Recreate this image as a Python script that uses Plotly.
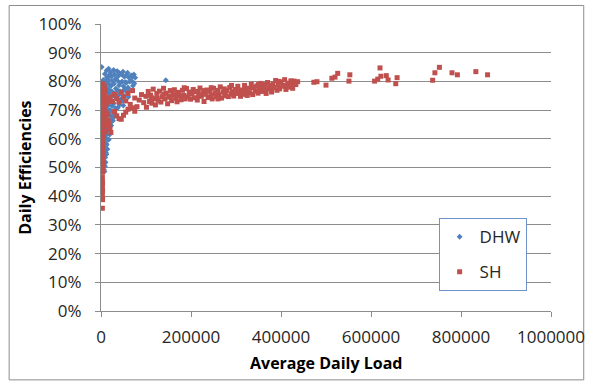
import plotly.graph_objects as go

# ---------------- data ----------------
# DHW: average daily load (Btu/day) and daily efficiency (%)
dhw_load = [
    1500, 2000, 2500, 3000, 5000, 6000, 7000, 5500, 6500, 7500, 5000, 6000, 7000, 5500, 6500, 7200,
    5800, 6800, 6000, 7000, 6200, 7300, 6500, 7800,
    8500, 9000, 10000, 8800, 9500, 10500, 9200, 10800, 9600, 11000, 10000, 11500, 10300, 11200,
    9800, 10900, 9400, 10200, 8600,
    12500, 13000, 14000, 12800, 15000, 13500, 14600, 12900, 15400, 13800, 15800, 14200, 13100,
    15100, 12700, 14300, 12200,
    17000, 18000, 16500, 19000, 17500, 20000, 18500, 16800, 19600, 17900, 20300, 18200, 16400,
    19200, 17300,
    21500, 23000, 25000, 22000, 24000, 26000, 22500, 24800, 21800, 23800, 26200, 22800, 25500,
    28000, 30000, 32000, 29000, 33000, 31000, 34000, 28500, 32500, 30500, 27500,
    36000, 38000, 41000, 37000, 40000, 43000, 36500, 39000, 42000, 44000, 38500, 41500, 37500,
    46000, 49000, 52000, 47000, 50000, 54000, 48000, 51000, 53000, 46500, 49500,
    56000, 59000, 62000, 57000, 60000, 64000, 58000, 61000, 63000,
    67000, 70000, 73000, 68000, 71000, 76000, 69000, 74000,
    144000,
]
dhw_eff = [
    85.0, 78.0, 76.5, 74.0, 80.5, 79.0, 77.5, 75.8, 73.5, 71.2, 69.5, 67.8, 66.0, 64.2, 62.5, 60.8,
    59.0, 57.4, 55.6, 54.0, 52.3, 50.8, 49.2, 48.6,
    82.6, 80.1, 78.3, 76.4, 74.6, 72.7, 70.9, 69.1, 67.3, 65.5, 63.6, 61.8, 60.1, 58.4,
    56.7, 55.1, 53.5, 51.8, 50.4,
    83.8, 81.4, 79.6, 77.7, 75.9, 74.1, 72.2, 70.5, 68.7, 66.9, 65.2, 63.4, 61.6,
    59.8, 57.9, 56.4, 54.6,
    84.4, 82.2, 80.6, 78.9, 77.1, 75.4, 73.6, 71.8, 70.1, 68.3, 66.6, 64.8, 63.2,
    61.5, 59.7,
    83.2, 81.7, 80.1, 78.4, 76.6, 74.9, 73.1, 71.4, 69.7, 68.0, 66.4, 64.6, 66.2,
    84.0, 82.5, 80.9, 79.2, 77.5, 75.8, 74.1, 72.4, 70.7, 68.9, 67.4,
    83.6, 81.8, 82.9, 80.2, 78.6, 79.4, 76.9, 75.2, 76.6, 73.8, 73.5, 71.9, 70.8,
    82.4, 83.4, 81.6, 80.0, 78.3, 79.7, 76.6, 74.9, 77.3, 73.2, 71.6,
    82.2, 83.0, 81.3, 79.6, 77.9, 79.9, 76.2, 74.6, 76.8,
    82.1, 81.6, 82.4, 80.2, 78.5, 81.3, 76.8, 79.3,
    80.4,
]

# SH: average daily load (Btu/day) and daily efficiency (%)
sh_load = [
    # low-load column
    3000, 2500, 4000, 3000, 2000, 4500, 3000, 2500, 4000, 3000, 2000, 4500, 3000, 2500, 4000, 3000,
    2000, 5000, 3000, 2500, 4000, 3000, 2000, 4500, 3000, 2500, 4000, 3000, 2000, 4500, 3000, 2500,
    4000, 3000, 2000, 4500, 3000, 2500, 3500, 3000,
    3000, 2500, 3500, 3000, 2500, 3500, 3000, 2500, 3000, 3500, 3000,
    # spread next to the column
    7000, 9000, 6500, 11000, 8000, 14000, 10000, 7000, 12000, 9000, 16000, 7500, 13000, 20000,
    10000, 6000, 18000, 22000, 15000, 8500, 12500,
    # upper branch
    20000, 25000, 30000, 35000, 40000, 45000, 50000, 55000, 60000, 65000, 70000, 75000, 80000,
    85000, 90000, 95000, 100000,
    # lower hook
    30000, 35000, 40000, 45000, 50000, 55000, 60000, 70000, 75000, 101000,
    # main band
    105000, 108000, 110000, 113000, 116000, 118000, 121000, 124000, 127000, 130000, 133000,
    136000, 139000, 142000, 145000, 148000, 151000, 154000, 157000, 160000, 163000, 166000,
    169000, 172000, 175000, 178000, 181000, 184000, 187000, 190000, 193000, 196000, 199000,
    202000, 205000, 208000, 211000, 214000, 217000, 220000, 223000, 226000, 229000, 232000,
    235000, 238000, 241000, 244000, 247000, 250000, 253000, 256000, 259000, 262000, 265000,
    268000, 271000, 274000, 277000, 280000, 283000, 286000, 289000, 292000, 295000, 298000,
    301000, 304000, 307000, 310000, 313000, 316000, 319000, 322000, 325000, 328000, 331000,
    334000, 337000, 340000, 343000, 346000, 349000, 352000, 355000, 358000, 361000, 364000,
    367000, 370000, 373000, 376000, 379000, 382000, 385000, 388000, 391000, 394000, 397000,
    400000, 404000, 408000, 411000, 415000, 419000, 422000, 426000, 429000, 433000, 437000,
    112000, 125000, 140000, 155000, 170000, 185000, 200000, 215000, 230000, 245000, 260000,
    275000, 290000, 305000, 320000, 335000, 350000, 365000, 380000, 395000, 410000, 425000,
    # high-load tail
    473000, 480000, 500000, 513000, 520000, 526000, 551000, 553000, 608000, 615000, 620000,
    622000, 634000, 638000, 655000, 658000, 737000, 742000, 752000, 780000, 792000, 833000,
    859000,
]
sh_eff = [
    79.2, 78.4, 77.6, 76.8, 76.0, 75.3, 74.5, 73.7, 72.9, 72.1, 71.3, 70.5, 69.7, 68.9, 68.1, 67.3,
    66.5, 65.7, 64.9, 64.1, 63.3, 62.5, 61.7, 60.9, 60.1, 59.3, 58.5, 57.7, 56.9, 56.1, 55.3, 54.5,
    53.7, 52.9, 52.1, 51.3, 50.5, 49.7, 48.9, 48.3,
    46.5, 45.6, 44.7, 43.8, 42.9, 42.0, 41.1, 40.2, 39.3, 38.8, 35.8,
    78.5, 77.0, 75.5, 74.2, 73.2, 72.5, 71.5, 70.2, 69.0, 67.8, 66.5, 65.5, 64.5, 63.5,
    62.6, 61.5, 65.2, 62.2, 68.5, 76.0, 73.8,
    74.5, 73.0, 75.5, 74.0, 72.8, 76.2, 74.6, 73.2, 75.8, 72.0, 76.8, 74.2, 71.2,
    73.5, 75.4, 72.6, 74.8,
    69.5, 68.0, 67.0, 66.8, 68.2, 69.3, 70.3, 70.8, 69.6, 71.0,
    76.5, 73.0, 75.2, 72.4, 77.3, 74.0, 71.8, 75.8, 73.4, 76.6, 72.8,
    74.7, 77.6, 73.9, 75.9, 72.2, 74.5, 76.8, 73.3, 75.4, 77.1, 74.2,
    72.9, 76.2, 74.9, 73.6, 76.9, 75.1, 73.9, 77.5, 74.6, 76.1, 73.8,
    75.6, 77.2, 74.3, 76.4, 73.5, 75.1, 77.7, 74.8, 76.0, 73.0, 75.5,
    77.0, 74.4, 76.6, 75.2, 73.9, 77.6, 75.8, 74.6, 76.9, 75.4, 78.1,
    74.2, 76.3, 77.4, 75.0, 76.8, 74.7, 77.9, 75.6, 76.4, 74.9, 77.2,
    75.8, 78.3, 76.1, 74.8, 77.0, 75.5, 78.6, 76.4, 75.1, 77.6, 76.0,
    79.0, 75.4, 77.9, 76.6, 78.4, 75.9, 77.3, 79.3, 76.5, 78.0, 77.1,
    75.8, 79.6, 77.5, 78.5, 76.3, 79.1, 77.9, 80.3, 76.9, 78.8, 77.4,
    79.8, 78.3, 80.6, 77.2, 79.4, 78.0, 80.2, 77.6, 80.1, 78.9, 79.9,
    74.3, 74.1, 75.6, 74.9, 75.4, 77.8, 76.3, 76.5, 76.8, 77.8, 73.9,
    75.8, 78.6, 76.9, 77.3, 77.8, 78.9, 78.9, 77.7, 80.0, 78.6, 79.0,
    79.7, 79.9, 78.7, 81.1, 81.5, 82.8, 80.1, 82.3, 80.1, 80.8, 84.7,
    81.8, 82.0, 80.5, 79.2, 81.3, 80.4, 83.0, 84.9, 83.0, 82.3, 83.4,
    82.3,
]

x_ticks = [0, 200000, 400000, 600000, 800000, 1000000]
x_tick_labels = ["0", "200000", "400000", "600000", "800000", "1000000"]
y_ticks = [0, 10, 20, 30, 40, 50, 60, 70, 80, 90, 100]
y_tick_labels = ["0%", "10%", "20%", "30%", "40%", "50%", "60%", "70%", "80%", "90%", "100%"]

# ---------------- figure ----------------
FONT = "Open Sans"
TXT = "#262626"
GRID = "#8c8c8c"

fig = go.Figure()
fig.add_trace(go.Scatter(
    x=dhw_load, y=dhw_eff, mode="markers", name="DHW", legendgroup="a",
    marker=dict(symbol="diamond", size=4.5, color="#4F81BD", line=dict(width=0)),
))
fig.add_trace(go.Scatter(
    x=sh_load, y=sh_eff, mode="markers", name="SH", legendgroup="b",
    marker=dict(symbol="square", size=5, color="#C0504D", line=dict(width=0)),
))

# plot area: x 100.5..561 px, y 24..310.7 px
L, R, T, B = 100.5, 561.0, 24.0, 310.7
W, H = R - L, B - T


def px_x(p):
    return (p - L) / W


def px_y(p):
    return (B - p) / H


fig.update_layout(
    width=597, height=381,
    margin=dict(l=L, r=597 - R, t=T, b=381 - B, pad=0),
    paper_bgcolor="white", plot_bgcolor="white",
    font=dict(family=FONT, size=17, color=TXT),
    showlegend=True,
    legend=dict(
        x=px_x(446), y=px_y(218), xanchor="left", yanchor="top",
        xref="paper", yref="paper",
        bgcolor="white", bordercolor="#6F93C8", borderwidth=1,
        font=dict(family=FONT, size=17, color=TXT),
        tracegroupgap=10, itemwidth=30,
    ),
    xaxis=dict(
        range=[0, 1000000], tickvals=x_ticks, ticktext=x_tick_labels,
        showgrid=False, zeroline=False,
        showline=True, linecolor=GRID, linewidth=1,
        ticks="outside", ticklen=5, tickcolor=GRID,
        ticklabelstandoff=6,
        tickfont=dict(family=FONT, size=17, color=TXT),
    ),
    yaxis=dict(
        range=[0, 100], tickvals=y_ticks, ticktext=y_tick_labels,
        showgrid=True, gridcolor=GRID, gridwidth=1, zeroline=False,
        showline=True, linecolor=GRID, linewidth=1,
        ticks="outside", ticklen=5, tickcolor=GRID,
        ticklabelstandoff=10,
        tickfont=dict(family=FONT, size=17, color=TXT),
    ),
    annotations=[
        dict(text="<b>Daily Efficiencies</b>", x=px_x(22), y=0.5, xref="paper", yref="paper",
             textangle=-90, showarrow=False, xanchor="center", yanchor="middle",
             font=dict(family=FONT, size=16, color="black")),
        dict(text="<b>Average Daily Load</b>", x=0.5, y=px_y(363), xref="paper", yref="paper",
             showarrow=False, xanchor="center", yanchor="middle",
             font=dict(family=FONT, size=16, color="black")),
    ],
    shapes=[
        dict(type="rect", xref="paper", yref="paper",
             x0=px_x(6.5), x1=px_x(594.5), y0=px_y(379.5), y1=px_y(5.5),
             line=dict(color="#8c8c8c", width=1), fillcolor="rgba(0,0,0,0)", layer="below"),
    ],
)

fig.write_html("out.html")
